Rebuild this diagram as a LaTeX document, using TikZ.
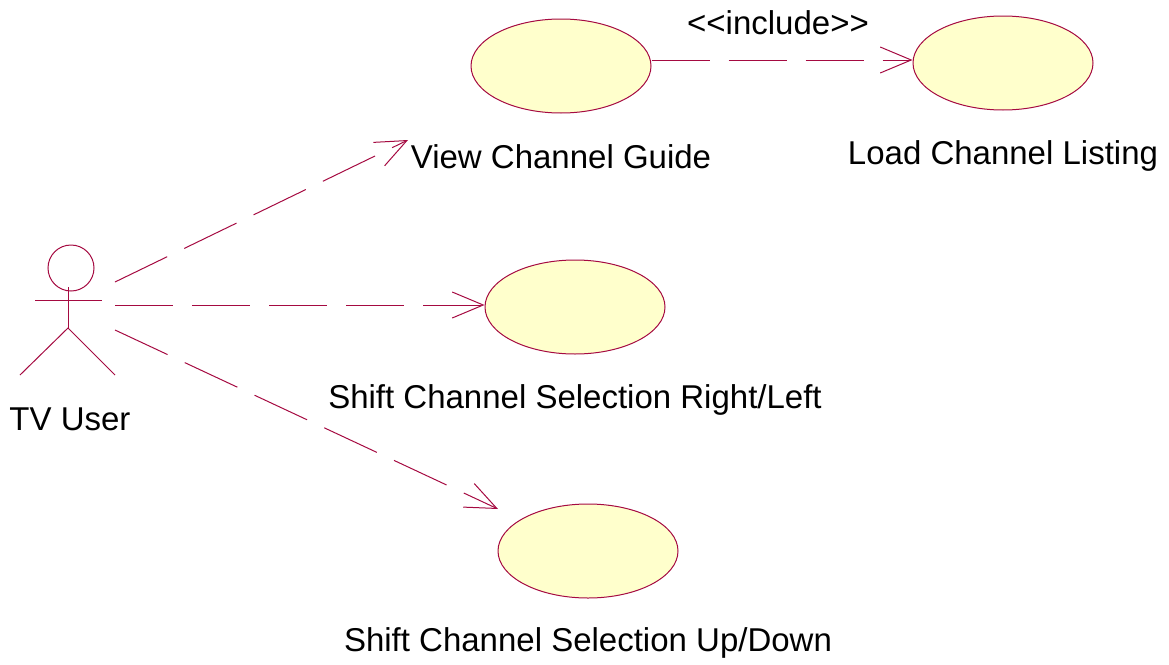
\documentclass[tikz,border=0pt]{standalone}
\usepackage{fontspec}
\setmainfont{Liberation Sans}
\usetikzlibrary{arrows.meta,shapes.geometric}
\definecolor{umlline}{RGB}{165,10,65}
\definecolor{umlfill}{RGB}{255,255,204}
\begin{document}
\begin{tikzpicture}[x=1pt,y=-1pt,
  usecase/.style={ellipse,draw=umlline,fill=umlfill,line width=1pt,minimum width=180pt,minimum height=94pt,inner sep=0pt},
  lbl/.style={font=\fontsize{33}{36}\selectfont,inner sep=0pt,anchor=center},
  dep/.style={draw=umlline,line width=1pt,dash pattern=on 58pt off 19pt,-{Straight Barb[length=31pt,width=26pt,line width=1pt]}},
  actorline/.style={draw=umlline,line width=1pt}]
\useasboundingbox (0,0) rectangle (1169,664);
% use cases
\node[usecase] (vcg) at (561,66) {};
\node[usecase] (lcl) at (1003,63) {};
\node[usecase] (scrl) at (575,307) {};
\node[usecase] (scud) at (588,551) {};
% labels
\node[lbl] (vcgl) at (561,157) {View Channel Guide};
\node[lbl] (lcll) at (1003,156) {Load Channel Listing};
\node[lbl] (scrll) at (575,400) {Shift Channel Selection Right/Left};
\node[lbl] (scudl) at (588,643) {Shift Channel Selection Up/Down};
\node[lbl] (actl) at (70,419) {TV User};
\node[lbl] (incl) at (778,23) {{<}{<}include{>}{>}};
% actor
\node[circle,draw=umlline,line width=1pt,minimum size=46pt,inner sep=0pt] (head) at (71,268) {};
\coordinate (neck) at (68,287);
\coordinate (hip) at (68,328);
\coordinate (armL) at (35,300);
\coordinate (armR) at (102,300);
\coordinate (footL) at (20,375);
\coordinate (footR) at (115,375);
\draw[actorline] (neck) -- (hip);
\draw[actorline] (armL) -- (armR);
\draw[actorline] (footL) -- (hip) -- (footR);
% connectors
\coordinate (a1) at (115,282);
\coordinate (a2) at (115,305);
\coordinate (a3) at (115,330);
\coordinate (t1) at (408,140);
\coordinate (t3) at (498,509);
\draw[dep] (a1) -- (t1);
\draw[dep] (a2) -- (a2 -| scrl.west);
\draw[dep] (a3) -- (t3);
\draw[dep] (vcg.east |- 0,60) -- (lcl.west |- 0,60);
\end{tikzpicture}
\end{document}
